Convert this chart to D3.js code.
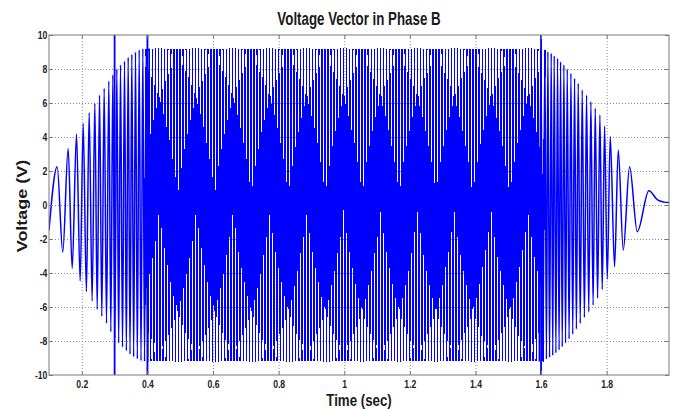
<!DOCTYPE html>
<html>
<head>
<meta charset="utf-8">
<script src="https://cdn.jsdelivr.net/npm/d3@7"></script>
<style>
  html, body { margin: 0; padding: 0; background: #fff; }
  svg { display: block; }
</style>
</head>
<body>
<div id="chart"></div>
<script>
// ── Data (every half-cycle extreme, time in s, volts) ──

// ramp-up, chirp from ~30 Hz to ~100 Hz
const riseT = [0.1000, 0.1249, 0.1420, 0.1584, 0.1707, 0.1838, 0.1950, 0.2042, 0.2140, 0.2225,
               0.2315, 0.2397, 0.2470, 0.2540, 0.2610, 0.2682, 0.2753, 0.2824, 0.2885, 0.2946,
               0.3007, 0.3068, 0.3124, 0.3180, 0.3241, 0.3302, 0.3358, 0.3414, 0.3470, 0.3525,
               0.3581, 0.3637, 0.3693, 0.3749, 0.3805, 0.3861, 0.3912, 0.3962];
const riseV = [-1.50, 2.25, -2.78, 3.33, -3.73, 4.16, -4.47, 4.80, -5.10, 5.43,
               -5.65, 5.98, -6.15, 6.47, -6.55, 6.86, -6.95, 7.29, -7.45, 7.65,
               -7.82, 8.00, -8.12, 8.24, -8.36, 8.47, -8.58, 8.69, -8.78, 8.86,
               -8.93, 9.00, -9.06, 9.12, -9.16, 9.20, -9.20, 9.20];

// steady part, 0.4 s .. 1.6 s
const flatT = [
  0.4009, 0.4056, 0.4103, 0.4150, 0.4197, 0.4244, 0.4291, 0.4338, 0.4385, 0.4432,
  0.4479, 0.4526, 0.4573, 0.4620, 0.4667, 0.4714, 0.4761, 0.4808, 0.4855, 0.4902,
  0.4949, 0.4996, 0.5043, 0.5090, 0.5137, 0.5184, 0.5231, 0.5278, 0.5325, 0.5372,
  0.5419, 0.5466, 0.5513, 0.5560, 0.5607, 0.5654, 0.5701, 0.5748, 0.5795, 0.5842,
  0.5889, 0.5936, 0.5983, 0.6030, 0.6077, 0.6124, 0.6171, 0.6218, 0.6265, 0.6312,
  0.6359, 0.6406, 0.6453, 0.6500, 0.6547, 0.6594, 0.6641, 0.6688, 0.6735, 0.6782,
  0.6829, 0.6876, 0.6923, 0.6970, 0.7017, 0.7064, 0.7111, 0.7158, 0.7205, 0.7252,
  0.7299, 0.7346, 0.7393, 0.7440, 0.7487, 0.7534, 0.7581, 0.7628, 0.7675, 0.7722,
  0.7769, 0.7816, 0.7863, 0.7910, 0.7957, 0.8004, 0.8051, 0.8098, 0.8145, 0.8192,
  0.8239, 0.8286, 0.8333, 0.8380, 0.8427, 0.8474, 0.8521, 0.8568, 0.8615, 0.8662,
  0.8709, 0.8756, 0.8803, 0.8850, 0.8897, 0.8944, 0.8991, 0.9038, 0.9085, 0.9132,
  0.9179, 0.9226, 0.9273, 0.9320, 0.9367, 0.9414, 0.9461, 0.9508, 0.9555, 0.9602,
  0.9649, 0.9696, 0.9743, 0.9790, 0.9837, 0.9884, 0.9931, 0.9978, 1.0025, 1.0072,
  1.0119, 1.0166, 1.0213, 1.0260, 1.0307, 1.0354, 1.0401, 1.0448, 1.0495, 1.0542,
  1.0589, 1.0636, 1.0683, 1.0730, 1.0777, 1.0824, 1.0871, 1.0918, 1.0965, 1.1012,
  1.1059, 1.1106, 1.1153, 1.1200, 1.1247, 1.1294, 1.1341, 1.1388, 1.1435, 1.1482,
  1.1529, 1.1576, 1.1623, 1.1670, 1.1717, 1.1764, 1.1811, 1.1858, 1.1905, 1.1952,
  1.1999, 1.2046, 1.2093, 1.2140, 1.2187, 1.2234, 1.2281, 1.2328, 1.2375, 1.2422,
  1.2469, 1.2516, 1.2563, 1.2610, 1.2657, 1.2704, 1.2751, 1.2798, 1.2845, 1.2892,
  1.2939, 1.2986, 1.3033, 1.3080, 1.3127, 1.3174, 1.3221, 1.3268, 1.3315, 1.3362,
  1.3409, 1.3456, 1.3503, 1.3550, 1.3597, 1.3644, 1.3691, 1.3738, 1.3785, 1.3832,
  1.3879, 1.3926, 1.3973, 1.4020, 1.4067, 1.4114, 1.4161, 1.4208, 1.4255, 1.4302,
  1.4349, 1.4396, 1.4443, 1.4490, 1.4537, 1.4584, 1.4631, 1.4678, 1.4725, 1.4772,
  1.4819, 1.4866, 1.4913, 1.4960, 1.5007, 1.5054, 1.5101, 1.5148, 1.5195, 1.5242,
  1.5289, 1.5336, 1.5383, 1.5430, 1.5477, 1.5524, 1.5571, 1.5618, 1.5665, 1.5712,
  1.5759, 1.5806, 1.5853, 1.5900, 1.5947, 1.5994];
const flatV = [
  -9.2, 9.2, -9.2, 9.2, -9.2, 9.2, -9.2, 9.2, -9.2, 9.2, -9.2, 9.2, -9.2, 9.2, -9.2, 9.2,
  -9.2, 9.2, -9.2, 9.2, -9.2, 9.2, -9.2, 9.2, -9.2, 9.2, -9.2, 9.2, -9.2, 9.2, -9.2, 9.2,
  -9.2, 9.2, -9.2, 9.2, -9.2, 9.2, -9.2, 9.2, -9.2, 9.2, -9.2, 9.2, -9.2, 9.2, -9.2, 9.2,
  -9.2, 9.2, -9.2, 9.2, -9.2, 9.2, -9.2, 9.2, -9.2, 9.2, -9.2, 9.2, -9.2, 9.2, -9.2, 9.2,
  -9.2, 9.2, -9.2, 9.2, -9.2, 9.2, -9.2, 9.2, -9.2, 9.2, -9.2, 9.2, -9.2, 9.2, -9.2, 9.2,
  -9.2, 9.2, -9.2, 9.2, -9.2, 9.2, -9.2, 9.2, -9.2, 9.2, -9.2, 9.2, -9.2, 9.2, -9.2, 9.2,
  -9.2, 9.2, -9.2, 9.2, -9.2, 9.2, -9.2, 9.2, -9.2, 9.2, -9.2, 9.2, -9.2, 9.2, -9.2, 9.2,
  -9.2, 9.2, -9.2, 9.2, -9.2, 9.2, -9.2, 9.2, -9.2, 9.2, -9.2, 9.2, -9.2, 9.2, -9.2, 9.2,
  -9.2, 9.2, -9.2, 9.2, -9.2, 9.2, -9.2, 9.2, -9.2, 9.2, -9.2, 9.2, -9.2, 9.2, -9.2, 9.2,
  -9.2, 9.2, -9.2, 9.2, -9.2, 9.2, -9.2, 9.2, -9.2, 9.2, -9.2, 9.2, -9.2, 9.2, -9.2, 9.2,
  -9.2, 9.2, -9.2, 9.2, -9.2, 9.2, -9.2, 9.2, -9.2, 9.2, -9.2, 9.2, -9.2, 9.2, -9.2, 9.2,
  -9.2, 9.2, -9.2, 9.2, -9.2, 9.2, -9.2, 9.2, -9.2, 9.2, -9.2, 9.2, -9.2, 9.2, -9.2, 9.2,
  -9.2, 9.2, -9.2, 9.2, -9.2, 9.2, -9.2, 9.2, -9.2, 9.2, -9.2, 9.2, -9.2, 9.2, -9.2, 9.2,
  -9.2, 9.2, -9.2, 9.2, -9.2, 9.2, -9.2, 9.2, -9.2, 9.2, -9.2, 9.2, -9.2, 9.2, -9.2, 9.2,
  -9.2, 9.2, -9.2, 9.2, -9.2, 9.2, -9.2, 9.2, -9.2, 9.2, -9.2, 9.2, -9.2, 9.2, -9.2, 9.2,
  -9.2, 9.2, -9.2, 9.2, -9.2, 9.2, -9.2, 9.2, -9.2, 9.2, -9.2, 9.2, -9.2, 9.2, -9.2, 9.2];

// ramp-down and the decaying tail
const fallT = [1.6055, 1.6117, 1.6163, 1.6208, 1.6259, 1.6310, 1.6356, 1.6401, 1.6452, 1.6503,
               1.6549, 1.6595, 1.6646, 1.6696, 1.6747, 1.6798, 1.6854, 1.6910, 1.6966, 1.7021,
               1.7077, 1.7133, 1.7194, 1.7255, 1.7321, 1.7387, 1.7453, 1.7519, 1.7586, 1.7652,
               1.7723, 1.7793, 1.7865, 1.7936, 1.8018, 1.8109, 1.8241, 1.8353, 1.8506, 1.8698,
               1.8933, 1.9287, 1.9550, 1.9750, 1.9900];
const fallV = [-9.18, 9.12, -9.07, 9.02, -8.97, 8.92, -8.85, 8.78, -8.70, 8.63,
               -8.53, 8.43, -8.34, 8.24, -8.12, 8.00, -7.88, 7.75, -7.60, 7.45,
               -7.30, 7.16, -6.96, 6.76, -6.62, 6.47, -6.28, 6.08, -5.89, 5.69,
               -5.49, 5.29, -4.97, 4.65, -4.35, 4.02, -3.63, 3.24, -2.65, 2.25,
               -1.57, 0.84, 0.30, 0.17, 0.14];

// vertical switching markers
const markerTimes = [0.3, 0.4, 1.6];

const xTicks = [0.2, 0.4, 0.6, 0.8, 1, 1.2, 1.4, 1.6, 1.8];
const yTicks = [-10, -8, -6, -4, -2, 0, 2, 4, 6, 8, 10];
const xDomain = [0.1, 1.99];
const yDomain = [-10, 10];

// ── Layout ────────────────────────────────────────────────────────────────
const W = 677, H = 409;
const margin = { top: 35, right: 8, bottom: 34, left: 49 };
const plotW = W - margin.left - margin.right;
const plotH = H - margin.top - margin.bottom;
const FONT = "'Liberation Sans', Arial, sans-serif";
const BLUE = "#0000ff";
const AXIS = "#7a7a7a";

const svg = d3.select("#chart").append("svg")
    .attr("width", W)
    .attr("height", H)
    .style("background", "#fff");

const x = d3.scaleLinear().domain(xDomain).range([margin.left, margin.left + plotW]);
const y = d3.scaleLinear().domain(yDomain).range([margin.top + plotH, margin.top]);

svg.append("defs").append("clipPath").attr("id", "plot-clip")
    .append("rect")
    .attr("x", margin.left).attr("y", margin.top)
    .attr("width", plotW).attr("height", plotH);

// ── Grid (dotted, MATLAB style) ───────────────────────────────────────────
const gridG = svg.append("g").attr("class", "grid");

gridG.append("g")
    .attr("transform", `translate(0,${margin.top + plotH})`)
    .call(d3.axisBottom(x).tickValues(xTicks).tickSize(-plotH).tickFormat(""))
    .call(g => g.select(".domain").remove());

gridG.append("g")
    .attr("transform", `translate(${margin.left},0)`)
    .call(d3.axisLeft(y).tickValues(yTicks.filter(d => d > -10 && d < 10)).tickSize(-plotW).tickFormat(""))
    .call(g => g.select(".domain").remove());

gridG.selectAll("line")
    .attr("stroke", "#8c8c8c")
    .attr("stroke-width", 1)
    .attr("stroke-dasharray", "1,2");

// ── Signal ────────────────────────────────────────────────────────────────
const risePts = riseT.map((t, i) => [t, riseV[i]]);
const flatPts = flatT.map((t, i) => [t, flatV[i]]);
const fallPts = fallT.map((t, i) => [t, fallV[i]]);

// three pieces sharing their end extremes; the dense middle is drawn
// without anti-aliasing, which gives the moire look of the original
const segments = [
    { pts: risePts.concat(flatPts.slice(0, 2)), crisp: false },
    { pts: risePts.slice(-2).concat(flatPts, fallPts.slice(0, 2)), crisp: true },
    { pts: flatPts.slice(-2).concat(fallPts), crisp: false }
];

const line = d3.line()
    .x(d => x(d[0]))
    .y(d => y(d[1]))
    .curve(d3.curveMonotoneX);

const plotG = svg.append("g").attr("clip-path", "url(#plot-clip)");

plotG.selectAll(".signal").data(segments).join("path")
    .attr("class", "signal")
    .attr("d", d => line(d.pts))
    .attr("fill", "none")
    .attr("stroke", BLUE)
    .attr("stroke-width", d => d.crisp ? 1.6 : 1.5)
    .attr("stroke-linejoin", "round")
    .attr("shape-rendering", d => d.crisp ? "crispEdges" : "auto");

plotG.selectAll(".marker").data(markerTimes).join("line")
    .attr("class", "marker")
    .attr("x1", d => x(d)).attr("x2", d => x(d))
    .attr("y1", y(yDomain[0])).attr("y2", y(yDomain[1]))
    .attr("stroke", BLUE)
    .attr("stroke-width", 1.8);

// ── Axes box + inward ticks ───────────────────────────────────────────────
svg.append("rect")
    .attr("x", margin.left).attr("y", margin.top)
    .attr("width", plotW).attr("height", plotH)
    .attr("fill", "none")
    .attr("stroke", AXIS)
    .attr("stroke-width", 1);

function styleAxis(g) {
    g.select(".domain").remove();
    g.selectAll("line").attr("stroke", AXIS);
    g.selectAll("text")
        .attr("fill", "#222")
        .style("font-family", FONT)
        .style("font-size", "10.5px")
        .style("font-weight", "bold")
        .attr("transform", "scale(0.82,1)");
}

svg.append("g")
    .attr("transform", `translate(0,${margin.top + plotH})`)
    .call(d3.axisBottom(x).tickValues(xTicks).tickSize(-4).tickPadding(6).tickFormat(d => String(d)))
    .call(styleAxis);

svg.append("g")
    .attr("transform", `translate(0,${margin.top})`)
    .call(d3.axisTop(x).tickValues(xTicks).tickSize(-4).tickFormat(""))
    .call(styleAxis);

svg.append("g")
    .attr("transform", `translate(${margin.left},0)`)
    .call(d3.axisLeft(y).tickValues(yTicks).tickSize(-4).tickPadding(2).tickFormat(d => String(d)))
    .call(styleAxis);

svg.append("g")
    .attr("transform", `translate(${margin.left + plotW},0)`)
    .call(d3.axisRight(y).tickValues(yTicks).tickSize(-4).tickFormat(""))
    .call(styleAxis);

// ── Titles ────────────────────────────────────────────────────────────────
svg.append("text")
    .attr("transform", `translate(${margin.left + plotW / 2},25) scale(0.74,1)`)
    .attr("text-anchor", "middle")
    .style("font-family", FONT)
    .style("font-size", "18px")
    .style("font-weight", "bold")
    .attr("fill", "#1a1a1a")
    .text("Voltage Vector in Phase B");

svg.append("text")
    .attr("transform", `translate(${margin.left + plotW / 2},406) scale(0.83,1)`)
    .attr("text-anchor", "middle")
    .style("font-family", FONT)
    .style("font-size", "16px")
    .style("font-weight", "bold")
    .attr("fill", "#1a1a1a")
    .text("Time (sec)");

svg.append("text")
    .attr("transform", "translate(27,206) scale(0.82,1) rotate(-90)")
    .attr("text-anchor", "middle")
    .style("font-family", FONT)
    .style("font-size", "18px")
    .style("font-weight", "bold")
    .attr("fill", "#1a1a1a")
    .text("Voltage (V)");
</script>
</body>
</html>
